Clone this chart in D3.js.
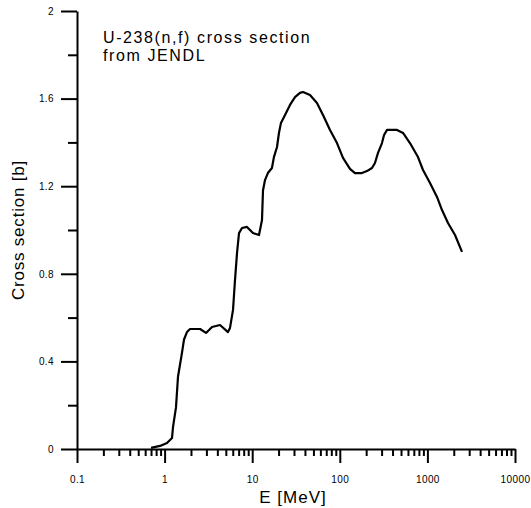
<meta charset="utf-8">
<style>body { margin: 0; } svg { display: block; }</style>
<svg width="531" height="508"></svg>
<script src="https://d3js.org/d3.v7.min.js"></script>
<script>
// U-238(n,f) cross section
var energy = [0.7, 0.886, 1.065, 1.215, 1.247, 1.349, 1.422, 1.58, 1.666, 1.80, 1.95, 2.54, 2.97, 3.48, 4.29, 5.29,
  5.58, 6.04, 6.36, 6.71, 7.07, 7.65, 8.72, 10.2, 11.96, 12.94, 13.28, 14.0, 15.1, 16.8, 17.7, 19.2, 20.2, 21.3,
  23.7, 27.0, 30.8, 35.1, 38.0, 45.7, 54.9, 64.3, 77.3, 92.9, 108.8, 130.7, 149, 179, 204, 233, 252, 273, 303,
  320, 346, 450, 527, 632, 781, 891, 1071, 1287, 1468, 1718, 2066, 2483];
var sigma = [0.005, 0.014, 0.027, 0.05, 0.10, 0.19, 0.33, 0.44, 0.50, 0.534, 0.548, 0.548, 0.53, 0.557, 0.566, 0.534,
  0.553, 0.635, 0.77, 0.895, 0.986, 1.009, 1.014, 0.986, 0.977, 1.046, 1.18, 1.228, 1.26, 1.283, 1.333, 1.379, 1.443, 1.489,
  1.525, 1.571, 1.607, 1.626, 1.630, 1.616, 1.58, 1.525, 1.457, 1.397, 1.329, 1.279, 1.26, 1.26, 1.269, 1.283, 1.306, 1.352, 1.397,
  1.434, 1.457, 1.457, 1.443, 1.397, 1.333, 1.274, 1.215, 1.151, 1.091, 1.032, 0.977, 0.90];

var xTicks = [0.1, 1, 10, 100, 1000, 10000];
var xTickLabels = ["0.1", "1", "10", "100", "1000", "10000"];
var yTicks = [0, 0.4, 0.8, 1.2, 1.6, 2];
var yTickLabels = ["0", "0.4", "0.8", "1.2", "1.6", "2"];
var yMinor = [0.2, 0.6, 1.0, 1.4, 1.8];

var svg = d3.select("svg"),
    font = "Arial, 'Liberation Sans', sans-serif";

svg.append("rect").attr("width", 531).attr("height", 508).attr("fill", "#fff");

var x = d3.scaleLog().domain([0.1, 10000]).range([77, 515]);
var y = d3.scaleLinear().domain([0, 2]).range([449, 11]);

var xMinor = [];
xTicks.slice(0, -1).forEach(function(t) {
  for (var k = 2; k < 10; k++) xMinor.push(t * k);
});

// minor ticks
svg.append("g")
    .attr("transform", "translate(0,449)")
    .call(d3.axisBottom(x).tickValues(xMinor).tickSize(7).tickSizeOuter(0).tickFormat(""))
    .call(function(g) { g.select(".domain").remove(); });
svg.append("g")
    .attr("transform", "translate(77,0)")
    .call(d3.axisLeft(y).tickValues(yMinor).tickSize(9).tickSizeOuter(0).tickFormat(""))
    .call(function(g) { g.select(".domain").remove(); });

// major ticks
var gx = svg.append("g")
    .attr("transform", "translate(0,449)")
    .call(d3.axisBottom(x).tickValues(xTicks).tickSize(14).tickSizeOuter(0).tickPadding(13)
      .tickFormat(function(d, i) { return xTickLabels[i]; }));
var gy = svg.append("g")
    .attr("transform", "translate(77,0)")
    .call(d3.axisLeft(y).tickValues(yTicks).tickSize(16).tickSizeOuter(0).tickPadding(7)
      .tickFormat(function(d, i) { return yTickLabels[i]; }));

svg.selectAll(".tick line, .domain").attr("stroke", "#000").attr("stroke-width", 2);
svg.selectAll(".tick text").attr("font-family", font).attr("font-size", 10).attr("fill", "#000")
    .attr("letter-spacing", 0.4);

// curve
var line = d3.line()
    .x(function(d, i) { return x(energy[i]); })
    .y(function(d) { return y(d); });

svg.append("path")
    .datum(sigma)
    .attr("fill", "none")
    .attr("stroke", "#000")
    .attr("stroke-width", 2.2)
    .attr("stroke-linejoin", "round")
    .attr("d", line);

// titles
svg.append("text")
    .attr("x", 293).attr("y", 503)
    .attr("text-anchor", "middle")
    .attr("font-family", font).attr("font-size", 17).attr("letter-spacing", 1)
    .text("E [MeV]");

svg.append("text")
    .attr("transform", "translate(24,230) rotate(-90)")
    .attr("text-anchor", "middle")
    .attr("font-family", font).attr("font-size", 17).attr("letter-spacing", 0.8)
    .text("Cross section [b]");

svg.append("text")
    .attr("x", 103).attr("y", 43)
    .attr("font-family", font).attr("font-size", 16).attr("letter-spacing", 1.6)
    .text("U-238(n,f) cross section");
svg.append("text")
    .attr("x", 103).attr("y", 61)
    .attr("font-family", font).attr("font-size", 16).attr("letter-spacing", 1.6)
    .text("from JENDL");
</script>
